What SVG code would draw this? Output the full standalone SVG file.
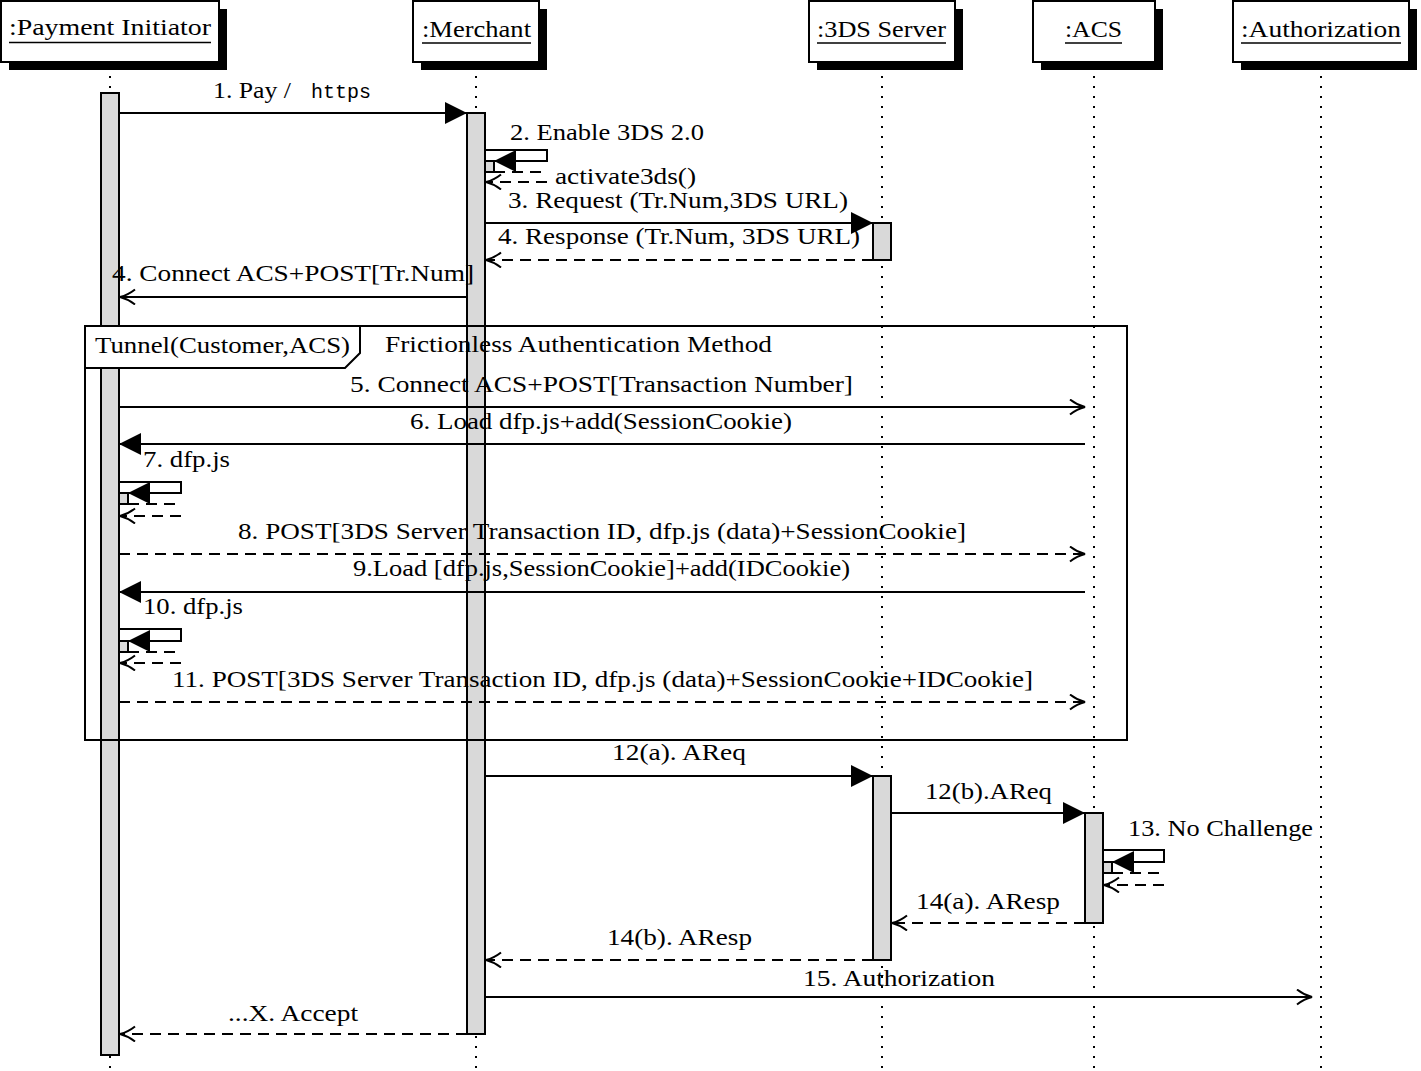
<svg xmlns="http://www.w3.org/2000/svg" width="1421" height="1071" viewBox="0 0 1421 1071">
<style>
  text { font-family: "Liberation Serif", "Times New Roman", serif; font-size: 23.5px; fill: #000; }
  .hdr { font-size: 24px; }
  .mono { font-family: "Liberation Mono", "Courier New", monospace; font-size: 21px; }
  .box { fill: #fff; stroke: #000; stroke-width: 2; }
  .shadow { fill: #000; }
  .ul { stroke: #000; stroke-width: 1.6; }
  .life { stroke: #000; stroke-width: 2; stroke-dasharray: 2 8; fill: none; }
  .act { fill: #d9d9d9; stroke: #000; stroke-width: 2; }
  .msg { stroke: #000; stroke-width: 2; fill: none; }
  .dash { stroke-dasharray: 11 7; }
  .frame { fill: none; stroke: #000; stroke-width: 2; }
  .tab { fill: #fff; stroke: #000; stroke-width: 2; }
</style>
<defs>
  <marker id="tri" markerUnits="userSpaceOnUse" markerWidth="24" markerHeight="24" refX="22" refY="11" orient="auto">
    <path d="M0,0 L22,11 L0,22 Z" fill="#000"/>
  </marker>
  <marker id="open" markerUnits="userSpaceOnUse" markerWidth="20" markerHeight="20" refX="16" refY="8" orient="auto">
    <path d="M1,0.5 Q8,6 16,8 Q8,10 1,15.5" fill="none" stroke="#000" stroke-width="2"/>
  </marker>
</defs>
<rect width="1421" height="1071" fill="#fff"/>

<!-- lifelines -->
<g id="lifelines">
  <line class="life" x1="110" y1="66" x2="110" y2="1071"/>
  <line class="life" x1="476" y1="66" x2="476" y2="1071"/>
  <line class="life" x1="882" y1="66" x2="882" y2="1071"/>
  <line class="life" x1="1094" y1="66" x2="1094" y2="1071"/>
  <line class="life" x1="1321" y1="66" x2="1321" y2="1071"/>
</g>

<!-- participants -->
<g id="payment-initiator">
  <rect class="shadow" x="9" y="9" width="218" height="61"/>
  <rect class="box" x="1" y="1" width="218" height="61"/>
  <text class="hdr" x="9" y="35" textLength="202" lengthAdjust="spacingAndGlyphs">:Payment Initiator</text>
  <line class="ul" x1="9" y1="42.5" x2="211" y2="42.5"/>
  <rect class="act" x="101" y="93" width="18" height="962"/>
  <rect class="act" x="119" y="493" width="9" height="11"/>
  <rect class="act" x="119" y="641" width="9" height="11"/>
</g>
<g id="merchant">
  <rect class="shadow" x="421" y="9" width="126" height="61"/>
  <rect class="box" x="413" y="1" width="126" height="61"/>
  <text class="hdr" x="422" y="37" textLength="109" lengthAdjust="spacingAndGlyphs">:Merchant</text>
  <line class="ul" x1="422" y1="43" x2="531" y2="43"/>
  <rect class="act" x="467" y="113" width="18" height="921"/>
  <rect class="act" x="485" y="161" width="9" height="11"/>
</g>
<g id="3ds-server">
  <rect class="shadow" x="817" y="9" width="146" height="61"/>
  <rect class="box" x="809" y="1" width="146" height="61"/>
  <text class="hdr" x="817" y="37" textLength="129" lengthAdjust="spacingAndGlyphs">:3DS Server</text>
  <line class="ul" x1="817" y1="43" x2="946" y2="43"/>
  <rect class="act" x="873" y="223" width="18" height="37"/>
  <rect class="act" x="873" y="776" width="18" height="184"/>
</g>
<g id="acs">
  <rect class="shadow" x="1041" y="9" width="122" height="61"/>
  <rect class="box" x="1033" y="1" width="122" height="61"/>
  <text class="hdr" x="1065" y="37" textLength="57" lengthAdjust="spacingAndGlyphs">:ACS</text>
  <line class="ul" x1="1065" y1="43" x2="1122" y2="43"/>
  <rect class="act" x="1085" y="813" width="18" height="110"/>
  <rect class="act" x="1103" y="862" width="9" height="11"/>
</g>
<g id="authorization">
  <rect class="shadow" x="1241" y="9" width="176" height="61"/>
  <rect class="box" x="1233" y="1" width="176" height="61"/>
  <text class="hdr" x="1241" y="37" textLength="160" lengthAdjust="spacingAndGlyphs">:Authorization</text>
  <line class="ul" x1="1241" y1="43" x2="1401" y2="43"/>
</g>

<!-- frame -->
<g id="tunnel-frame">
  <rect class="frame" x="85" y="326" width="1042" height="414"/>
  <path class="tab" d="M85,326 H360 V353 L345,368 H85 Z"/>
  <text x="95" y="353" textLength="255" lengthAdjust="spacingAndGlyphs">Tunnel(Customer,ACS)</text>
  <text x="385" y="352" textLength="387" lengthAdjust="spacingAndGlyphs">Frictionless Authentication Method</text>
</g>

<!-- connectors -->
<g id="connectors">
  <path class="msg" d="M119,113 H467" marker-end="url(#tri)"/>
  <path class="msg" d="M485,150 H547 V161 H494" marker-end="url(#tri)"/>
  <path class="msg dash" d="M494,172 H547"/>
  <path class="msg dash" d="M547,182 H486" marker-end="url(#open)"/>
  <path class="msg" d="M485,223 H873" marker-end="url(#tri)"/>
  <path class="msg dash" d="M873,260 H486" marker-end="url(#open)"/>
  <path class="msg" d="M467,297 H120" marker-end="url(#open)"/>
  <path class="msg" d="M119,407 H1085" marker-end="url(#open)"/>
  <path class="msg" d="M1085,444 H119" marker-end="url(#tri)"/>
  <path class="msg" d="M119,482 H181 V493 H128" marker-end="url(#tri)"/>
  <path class="msg dash" d="M128,504 H181"/>
  <path class="msg dash" d="M181,516 H120" marker-end="url(#open)"/>
  <path class="msg dash" d="M119,554 H1085" marker-end="url(#open)"/>
  <path class="msg" d="M1085,592 H119" marker-end="url(#tri)"/>
  <path class="msg" d="M119,629 H181 V641 H128" marker-end="url(#tri)"/>
  <path class="msg dash" d="M128,652 H181"/>
  <path class="msg dash" d="M181,663 H120" marker-end="url(#open)"/>
  <path class="msg dash" d="M119,702 H1085" marker-end="url(#open)"/>
  <path class="msg" d="M485,776 H873" marker-end="url(#tri)"/>
  <path class="msg" d="M891,813 H1085" marker-end="url(#tri)"/>
  <path class="msg" d="M1103,850 H1164 V862 H1112" marker-end="url(#tri)"/>
  <path class="msg dash" d="M1112,873 H1164"/>
  <path class="msg dash" d="M1164,885 H1104" marker-end="url(#open)"/>
  <path class="msg dash" d="M1085,923 H892" marker-end="url(#open)"/>
  <path class="msg dash" d="M873,960 H486" marker-end="url(#open)"/>
  <path class="msg" d="M485,997 H1312" marker-end="url(#open)"/>
  <path class="msg dash" d="M467,1034 H120" marker-end="url(#open)"/>
</g>

<!-- labels -->
<g id="labels">
  <text x="213" y="98" textLength="78" lengthAdjust="spacingAndGlyphs">1. Pay /</text>
  <text class="mono" x="311" y="98" textLength="60" lengthAdjust="spacingAndGlyphs">https</text>
  <text x="510" y="140" textLength="194" lengthAdjust="spacingAndGlyphs">2. Enable 3DS 2.0</text>
  <text x="555" y="184" textLength="141" lengthAdjust="spacingAndGlyphs">activate3ds()</text>
  <text x="508" y="208" textLength="340" lengthAdjust="spacingAndGlyphs">3. Request (Tr.Num,3DS URL)</text>
  <text x="498" y="244" textLength="362" lengthAdjust="spacingAndGlyphs">4. Response (Tr.Num, 3DS URL)</text>
  <text x="112" y="281" textLength="362" lengthAdjust="spacingAndGlyphs">4. Connect ACS+POST[Tr.Num]</text>
  <text x="350" y="392" textLength="503" lengthAdjust="spacingAndGlyphs">5. Connect ACS+POST[Transaction Number]</text>
  <text x="410" y="429" textLength="382" lengthAdjust="spacingAndGlyphs">6. Load dfp.js+add(SessionCookie)</text>
  <text x="143" y="467" textLength="87" lengthAdjust="spacingAndGlyphs">7. dfp.js</text>
  <text x="238" y="539" textLength="728" lengthAdjust="spacingAndGlyphs">8. POST[3DS Server Transaction ID, dfp.js (data)+SessionCookie]</text>
  <text x="353" y="576" textLength="497" lengthAdjust="spacingAndGlyphs">9.Load [dfp.js,SessionCookie]+add(IDCookie)</text>
  <text x="143" y="614" textLength="100" lengthAdjust="spacingAndGlyphs">10. dfp.js</text>
  <text x="172" y="687" textLength="861" lengthAdjust="spacingAndGlyphs">11. POST[3DS Server Transaction ID, dfp.js (data)+SessionCookie+IDCookie]</text>
  <text x="612" y="760" textLength="134" lengthAdjust="spacingAndGlyphs">12(a). AReq</text>
  <text x="925" y="799" textLength="127" lengthAdjust="spacingAndGlyphs">12(b).AReq</text>
  <text x="1128" y="836" textLength="185" lengthAdjust="spacingAndGlyphs">13. No Challenge</text>
  <text x="916" y="909" textLength="144" lengthAdjust="spacingAndGlyphs">14(a). AResp</text>
  <text x="607" y="945" textLength="145" lengthAdjust="spacingAndGlyphs">14(b). AResp</text>
  <text x="803" y="986" textLength="192" lengthAdjust="spacingAndGlyphs">15. Authorization</text>
  <text x="228" y="1021" textLength="130" lengthAdjust="spacingAndGlyphs">...X. Accept</text>
</g>
</svg>
